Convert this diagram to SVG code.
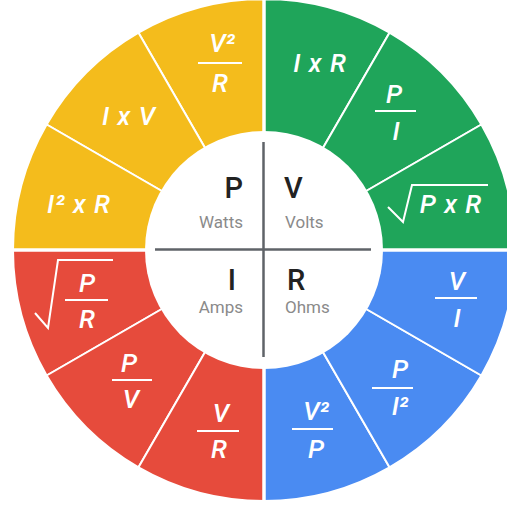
<svg xmlns="http://www.w3.org/2000/svg" width="507" height="507" viewBox="0 0 507 507">
<style>
.seg{stroke:#fff;stroke-width:2;stroke-linejoin:round}
.y{fill:#F4BC1C}.g{fill:#1FA55A}.r{fill:#E64B3C}.b{fill:#4A8BF2}
.f{font-family:Roboto,"Liberation Sans",sans-serif;font-style:italic;font-weight:500;font-size:26px;fill:#fff;text-anchor:middle}
.w{letter-spacing:1px}
.bar{stroke:#fff;stroke-width:2;fill:none}
.rad{stroke:#fff;stroke-width:2;fill:none;stroke-linejoin:miter}
.big{font-family:Roboto,"Liberation Sans",sans-serif;font-weight:500;font-size:29px;fill:#222}
.sm{font-family:Roboto,"Liberation Sans",sans-serif;font-weight:400;font-size:17px;fill:#8a8a8a}
.qline{stroke:#fff;stroke-width:3.5}
.cross{stroke:#5f6368;stroke-width:2.5}
</style>
<rect width="507" height="507" fill="#fff"/>

<g id="green-IxR"><path class="seg g" d="M264,250 L389.5,32.63 A251,251 0 0 0 264,-1 Z"/><text class="f w" x="320" y="72">I x R</text></g>
<g id="green-P-over-I"><path class="seg g" d="M264,250 L481.37,124.5 A251,251 0 0 0 389.5,32.63 Z"/><text class="f" x="394" y="103">P</text><line class="bar" x1="375" y1="111" x2="416" y2="111"/><text class="f" x="396" y="140">I</text></g>
<g id="green-sqrt-PxR"><path class="seg g" d="M264,250 L515,250 A251,251 0 0 0 481.37,124.5 Z"/><polyline class="rad" points="388,207 403,222 412,185 488,185"/><text class="f w" x="451" y="213">P x R</text></g>

<g id="yellow-V2-over-R"><path class="seg y" d="M264,250 L264,-1 A251,251 0 0 0 138.5,32.63 Z"/><text class="f" x="222" y="52">V²</text><line class="bar" x1="198" y1="63" x2="242" y2="63"/><text class="f" x="220" y="92">R</text></g>
<g id="yellow-IxV"><path class="seg y" d="M264,250 L138.5,32.63 A251,251 0 0 0 46.63,124.5 Z"/><text class="f w" x="129" y="125">I x V</text></g>
<g id="yellow-I2xR"><path class="seg y" d="M264,250 L46.63,124.5 A251,251 0 0 0 13,250 Z"/><text class="f w" x="79" y="213">I² x R</text></g>

<g id="red-sqrt-P-over-R"><path class="seg r" d="M264,250 L13,250 A251,251 0 0 0 46.63,375.5 Z"/><polyline class="rad" points="35,313 48,328 58,260 113,260"/><text class="f" x="87" y="292">P</text><line class="bar" x1="65" y1="300" x2="108" y2="300"/><text class="f" x="87" y="328">R</text></g>
<g id="red-P-over-V"><path class="seg r" d="M264,250 L46.63,375.5 A251,251 0 0 0 138.5,467.37 Z"/><text class="f" x="129" y="372">P</text><line class="bar" x1="112" y1="380" x2="152" y2="380"/><text class="f" x="131" y="408">V</text></g>
<g id="red-V-over-R"><path class="seg r" d="M264,250 L138.5,467.37 A251,251 0 0 0 264,501 Z"/><text class="f" x="221" y="422">V</text><line class="bar" x1="197" y1="431" x2="239" y2="431"/><text class="f" x="219" y="458">R</text></g>

<g id="blue-V2-over-P"><path class="seg b" d="M264,250 L264,501 A251,251 0 0 0 389.5,467.37 Z"/><text class="f" x="316" y="420">V²</text><line class="bar" x1="292" y1="429" x2="333" y2="429"/><text class="f" x="316" y="458">P</text></g>
<g id="blue-P-over-I2"><path class="seg b" d="M264,250 L389.5,467.37 A251,251 0 0 0 481.37,375.5 Z"/><text class="f" x="400" y="378">P</text><line class="bar" x1="372" y1="388" x2="413" y2="388"/><text class="f" x="400" y="415">I²</text></g>
<g id="blue-V-over-I"><path class="seg b" d="M264,250 L481.37,375.5 A251,251 0 0 0 515,250 Z"/><text class="f" x="457" y="290">V</text><line class="bar" x1="435" y1="298" x2="477" y2="298"/><text class="f" x="457" y="327">I</text></g>

<g id="quadrant-dividers">
<line class="qline" x1="264" y1="-2" x2="264" y2="503"/>
<line class="qline" x1="10" y1="250" x2="515" y2="250"/>
</g>

<g id="hub">
<circle cx="264" cy="250" r="119" fill="#fff"/>
<line class="cross" x1="155" y1="249.5" x2="371" y2="249.5"/>
<line class="cross" x1="263.5" y1="142" x2="263.5" y2="357"/>
</g>
<g id="node-P"><text class="big" x="243" y="198" text-anchor="end">P</text><text class="sm" x="243" y="228" text-anchor="end">Watts</text></g>
<g id="node-V"><text class="big" x="284" y="198">V</text><text class="sm" x="285" y="228">Volts</text></g>
<g id="node-I"><text class="big" x="236" y="290" text-anchor="end">I</text><text class="sm" x="243" y="313" text-anchor="end">Amps</text></g>
<g id="node-R"><text class="big" x="287" y="290">R</text><text class="sm" x="285" y="313">Ohms</text></g>
</svg>
